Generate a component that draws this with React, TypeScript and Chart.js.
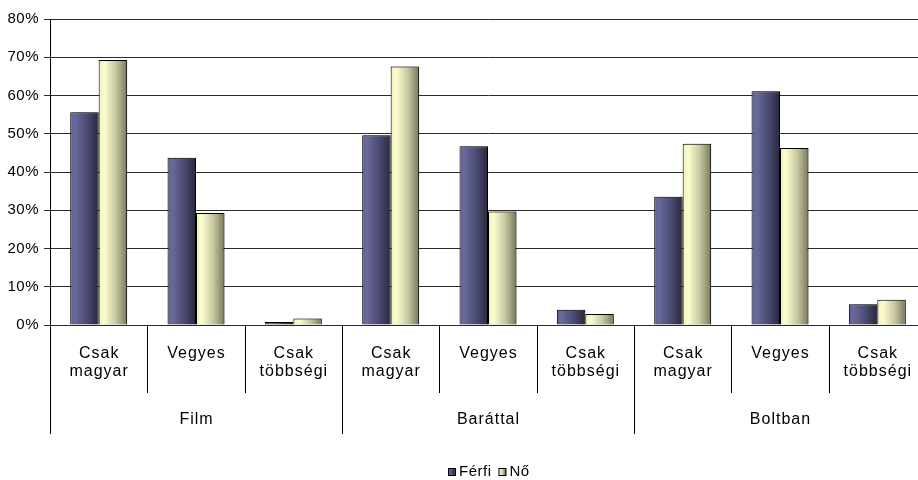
import React, { useEffect, useRef } from 'react';
import { Chart, registerables } from 'chart.js';

Chart.register(...registerables);

const groups = ['Film', 'Baráttal', 'Boltban'];
const subCategories = [['Csak', 'magyar'], ['Vegyes'], ['Csak', 'többségi']];
const seriesNames = ['Férfi', 'Nő'];
const ferfiValues = [55.6, 43.7, 0.8, 49.6, 46.7, 4.0, 33.5, 61.1, 5.4];
const noValues = [69.3, 29.3, 1.7, 67.6, 29.7, 2.9, 47.4, 46.3, 6.6];
const yMax = 80;
const yStep = 10;

const FONT = '"Liberation Sans", Arial, sans-serif';
const CAT_PCT = 0.585;

const ferfiStops: [number, string][] = [
  [0, '#5c5c8c'],
  [0.15, '#6a6a9e'],
  [0.6, '#4a4a72'],
  [1, '#28283c'],
];
const noStops: [number, string][] = [
  [0, '#eeeebe'],
  [0.2, '#fcfccc'],
  [0.6, '#c8c8a2'],
  [1, '#78785a'],
];

function gradientFor(stops: [number, string][], side: number) {
  return (ctx: any) => {
    const chart = ctx.chart;
    const xs = chart.scales && chart.scales.x;
    if (!xs || ctx.dataIndex === undefined || !chart.chartArea) return stops[1][1];
    const n = chart.data.labels.length;
    const catW = (xs.right - xs.left) / n;
    const barW = (catW * CAT_PCT) / 2;
    const c = xs.getPixelForValue(ctx.dataIndex);
    const x0 = side === 0 ? c - barW : c;
    const g = chart.ctx.createLinearGradient(x0, 0, x0 + barW, 0);
    stops.forEach(([o, col]) => g.addColorStop(o, col));
    return g;
  };
}

const labels = groups.flatMap((g) => subCategories.map((s) => g + ' ' + s.join(' ')));

const axisPlugin = {
  id: 'twoLevelAxis',
  beforeDraw(chart: any) {
    (chart.ctx as any).letterSpacing = '0.5px';
  },
  beforeDatasetsDraw(chart: any) {
    const ctx = chart.ctx;
    ctx.save();
    ctx.shadowColor = 'rgba(0,0,0,0.28)';
    ctx.shadowBlur = 2;
    ctx.shadowOffsetX = 1.5;
    ctx.shadowOffsetY = 0;
  },
  afterDatasetsDraw(chart: any) {
    chart.ctx.restore();
  },
  afterDraw(chart: any) {
    const ctx = chart.ctx;
    const xs = chart.scales.x;
    const area = chart.chartArea;
    const n = labels.length;
    const catW = (xs.right - xs.left) / n;
    const bottom = area.bottom;
    ctx.save();
    ctx.strokeStyle = '#000';
    ctx.lineWidth = 1;
    for (let i = 0; i <= n; i++) {
      const x = Math.round(xs.left + i * catW) + 0.5;
      const end = i % subCategories.length === 0 ? bottom + 109 : bottom + 68;
      ctx.beginPath();
      ctx.moveTo(x, bottom);
      ctx.lineTo(x, end);
      ctx.stroke();
    }
    ctx.fillStyle = '#000';
    ctx.textAlign = 'center';
    ctx.textBaseline = 'middle';
    ctx.font = '16px ' + FONT;
    (ctx as any).letterSpacing = '1px';
    for (let i = 0; i < n; i++) {
      const cx = xs.getPixelForValue(i) + 0.5;
      const lines = subCategories[i % subCategories.length];
      lines.forEach((t, k) => ctx.fillText(t, cx, bottom + 29 + k * 18));
    }
    groups.forEach((g, gi) => {
      const cx = xs.left + (gi * subCategories.length + subCategories.length / 2) * catW + 0.5;
      ctx.fillText(g, cx, bottom + 95);
    });

    // legend
    ctx.font = '15px ' + FONT;
    (ctx as any).letterSpacing = '0.5px';
    const box = 7;
    const gap = 3;
    const itemGap = 8;
    const widths = seriesNames.map((s) => ctx.measureText(s).width);
    const total = widths.reduce((a, w) => a + box + gap + w, 0) + itemGap * (seriesNames.length - 1);
    const centerX = (xs.left + xs.right) / 2;
    let x = Math.round(centerX - total / 2);
    const ly = bottom + 146;
    const allStops = [ferfiStops, noStops];
    ctx.textAlign = 'left';
    seriesNames.forEach((s, si) => {
      const g = ctx.createLinearGradient(x, 0, x + box, 0);
      allStops[si].forEach(([o, col]) => g.addColorStop(o, col));
      ctx.fillStyle = g;
      ctx.fillRect(x + 0.5, ly - 2.5, box, box);
      ctx.strokeStyle = '#000';
      ctx.strokeRect(x + 0.5, ly - 2.5, box, box);
      ctx.fillStyle = '#000';
      ctx.fillText(s, x + box + gap + 1, ly + 1);
      x += box + gap + widths[si] + itemGap;
    });
    ctx.restore();
  },
};

export default function App() {
  const ref = useRef<HTMLCanvasElement | null>(null);
  useEffect(() => {
    if (!ref.current) return;
    const chart = new Chart(ref.current, {
      type: 'bar',
      data: {
        labels,
        datasets: [
          {
            label: seriesNames[0],
            data: ferfiValues,
            backgroundColor: gradientFor(ferfiStops, 0) as any,
            borderColor: '#000',
            borderWidth: 1,
            categoryPercentage: CAT_PCT,
            barPercentage: 1,
          },
          {
            label: seriesNames[1],
            data: noValues,
            backgroundColor: gradientFor(noStops, 1) as any,
            borderColor: '#000',
            borderWidth: 1,
            categoryPercentage: CAT_PCT,
            barPercentage: 1,
          },
        ],
      },
      options: {
        responsive: false,
        animation: false,
        devicePixelRatio: 1,
        layout: { padding: { top: 19, bottom: 155, left: 0, right: 0 } },
        plugins: { legend: { display: false }, tooltip: { enabled: false } },
        scales: {
          x: { display: false },
          y: {
            min: 0,
            max: yMax,
            ticks: {
              stepSize: yStep,
              color: '#000',
              font: { family: FONT, size: 15 },
              padding: 5,
              callback: (v: any) => v + '%',
            },
            grid: { color: '#2a2a2a', lineWidth: 1, tickLength: 6, drawTicks: true },
            border: { display: true, color: '#000', width: 1 },
            afterFit: (s: any) => {
              s.width = 50;
            },
          },
        },
      },
      plugins: [axisPlugin],
    });
    return () => chart.destroy();
  }, []);
  return (
    <div style={{ position: 'absolute', left: 0, top: 0, width: 918, height: 480, overflow: 'hidden', background: '#fff' }}>
      <canvas ref={ref} width={926} height={480} style={{ display: 'block' }} />
    </div>
  );
}
